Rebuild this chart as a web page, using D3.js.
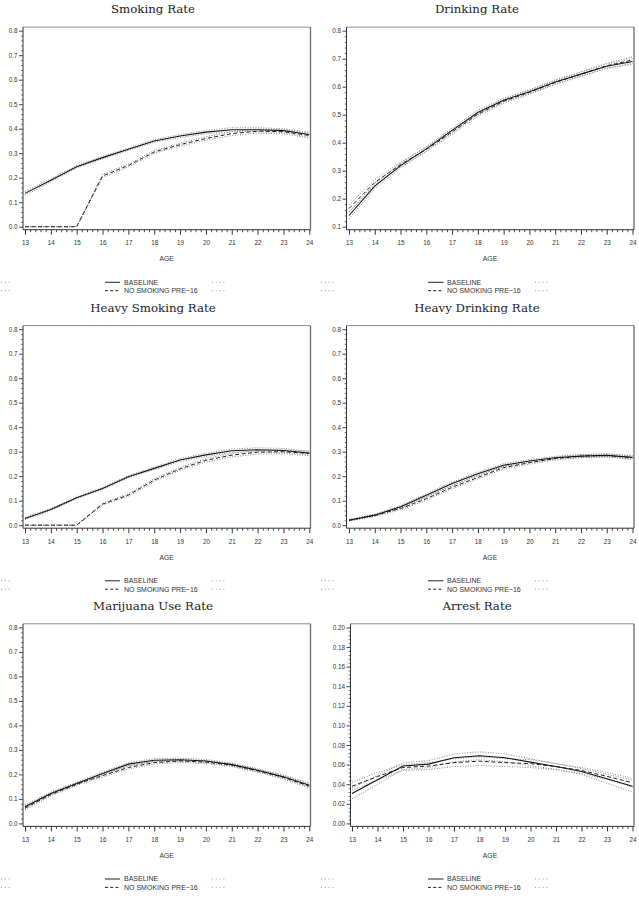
<!DOCTYPE html>
<html><head><meta charset="utf-8">
<script src="https://cdn.jsdelivr.net/npm/d3@7"></script>
<style>body{margin:0;background:#fff}svg{display:block}</style>
</head><body>
<svg id="c" width="639" height="911"></svg>
<script>
// ---------- data ----------
const ages = [13,14,15,16,17,18,19,20,21,22,23,24];
const titles = ["Smoking Rate","Drinking Rate","Heavy Smoking Rate","Heavy Drinking Rate","Marijuana Use Rate","Arrest Rate"];
const legendLabels = ["BASELINE","NO SMOKING PRE\u221216"];
const xAxisLabel = "AGE";
const yTicksRate = [0,0.1,0.2,0.3,0.4,0.5,0.6,0.7,0.8];
const yTicksDrink = [0.1,0.2,0.3,0.4,0.5,0.6,0.7,0.8];
const yTicksArrest = [0,0.02,0.04,0.06,0.08,0.10,0.12,0.14,0.16,0.18,0.20];

// Smoking
const smkBase   = [0.136,0.190,0.245,0.282,0.316,0.350,0.370,0.386,0.396,0.396,0.392,0.376];
const smkBaseLo = [0.128,0.184,0.240,0.277,0.311,0.345,0.364,0.379,0.388,0.388,0.384,0.366];
const smkBaseHi = [0.144,0.196,0.250,0.287,0.321,0.355,0.376,0.393,0.404,0.404,0.400,0.386];
const smkAlt    = [0,0,0,0.207,0.250,0.305,0.335,0.360,0.380,0.390,0.388,0.372];
const smkAltLo  = [0,0,0,0.200,0.244,0.299,0.329,0.353,0.372,0.382,0.379,0.362];
const smkAltHi  = [0,0,0,0.214,0.256,0.311,0.341,0.367,0.388,0.398,0.397,0.382];
// Drinking
const drkBase   = [0.140,0.245,0.318,0.378,0.444,0.508,0.552,0.582,0.617,0.645,0.673,0.690];
const drkBaseLo = [0.128,0.235,0.310,0.370,0.436,0.500,0.545,0.575,0.610,0.638,0.665,0.680];
const drkBaseHi = [0.152,0.255,0.326,0.386,0.452,0.516,0.559,0.589,0.624,0.652,0.681,0.700];
const drkAlt    = [0.165,0.258,0.322,0.376,0.438,0.502,0.548,0.580,0.615,0.645,0.675,0.695];
const drkAltLo  = [0.152,0.248,0.314,0.368,0.430,0.494,0.541,0.573,0.608,0.637,0.666,0.684];
const drkAltHi  = [0.178,0.268,0.330,0.384,0.446,0.510,0.555,0.587,0.622,0.653,0.684,0.706];
// Heavy smoking
const hsmBase   = [0.027,0.064,0.112,0.150,0.198,0.232,0.266,0.287,0.304,0.308,0.305,0.294];
const hsmBaseLo = [0.023,0.060,0.108,0.146,0.193,0.227,0.260,0.280,0.297,0.300,0.297,0.286];
const hsmBaseHi = [0.031,0.068,0.116,0.154,0.203,0.237,0.272,0.294,0.311,0.316,0.313,0.302];
const hsmAlt    = [0,0,0,0.086,0.123,0.184,0.230,0.265,0.286,0.298,0.300,0.293];
const hsmAltLo  = [0,0,0,0.082,0.118,0.178,0.224,0.258,0.279,0.290,0.292,0.284];
const hsmAltHi  = [0,0,0,0.090,0.128,0.190,0.236,0.272,0.293,0.306,0.308,0.302];
// Heavy drinking
const hdkBase   = [0.020,0.041,0.075,0.122,0.170,0.210,0.245,0.262,0.275,0.282,0.285,0.277];
const hdkBaseLo = [0.017,0.037,0.070,0.116,0.164,0.204,0.239,0.256,0.269,0.276,0.279,0.270];
const hdkBaseHi = [0.023,0.045,0.080,0.128,0.176,0.216,0.251,0.268,0.281,0.288,0.291,0.284];
const hdkAlt    = [0.020,0.040,0.068,0.108,0.155,0.195,0.235,0.255,0.272,0.282,0.285,0.275];
const hdkAltLo  = [0.017,0.036,0.063,0.102,0.149,0.189,0.229,0.249,0.266,0.276,0.279,0.268];
const hdkAltHi  = [0.023,0.044,0.073,0.114,0.161,0.201,0.241,0.261,0.278,0.288,0.291,0.282];
// Marijuana
const mjBase   = [0.068,0.122,0.163,0.204,0.242,0.258,0.260,0.255,0.240,0.217,0.190,0.156];
const mjBaseLo = [0.060,0.116,0.158,0.198,0.236,0.252,0.254,0.249,0.234,0.211,0.183,0.148];
const mjBaseHi = [0.076,0.128,0.168,0.210,0.248,0.264,0.266,0.261,0.246,0.223,0.197,0.164];
const mjAlt    = [0.062,0.118,0.160,0.195,0.228,0.248,0.255,0.250,0.238,0.215,0.188,0.152];
const mjAltLo  = [0.054,0.112,0.155,0.189,0.222,0.242,0.249,0.244,0.232,0.209,0.181,0.144];
const mjAltHi  = [0.070,0.124,0.165,0.201,0.234,0.254,0.261,0.256,0.244,0.221,0.195,0.160];
// Arrest
const arBase   = [0.0306,0.0445,0.0585,0.0605,0.0670,0.0690,0.0670,0.0625,0.0580,0.0530,0.0455,0.0380];
const arBaseLo = [0.0250,0.0400,0.0550,0.0570,0.0630,0.0650,0.0630,0.0590,0.0550,0.0500,0.0410,0.0320];
const arBaseHi = [0.0360,0.0490,0.0620,0.0640,0.0710,0.0730,0.0710,0.0660,0.0610,0.0560,0.0500,0.0440];
const arAlt    = [0.0380,0.0478,0.0570,0.0585,0.0620,0.0635,0.0620,0.0610,0.0580,0.0540,0.0480,0.0415];
const arAltLo  = [0.0340,0.0440,0.0540,0.0550,0.0580,0.0590,0.0580,0.0570,0.0550,0.0510,0.0450,0.0370];
const arAltHi  = [0.0420,0.0520,0.0600,0.0620,0.0660,0.0680,0.0660,0.0650,0.0610,0.0570,0.0520,0.0460];

// ---------- layout ----------
const cols = [
  {ax:23, x0:25, x1:309.3, right:310.5, titleX:153, ageX:166.7, legS:[105,120], legT:124, dotL:[1,12], dotR:[212,227]},
  {ax:346.5, x0:349, x1:632.5, right:634, titleX:477, ageX:490, legS:[428,443.5], legT:447, dotL:[321,335], dotR:[535,550]}
];
const rowTop = [30.7, 329.2, 627.4];   // pixel of top y-tick
const plotH = 196;

const panels = [
  {t:0,c:0,r:0,ticks:yTicksRate,fmt:".1f",s:[smkBase,smkBaseLo,smkBaseHi,smkAlt,smkAltLo,smkAltHi]},
  {t:1,c:1,r:0,ticks:yTicksDrink,fmt:".1f",s:[drkBase,drkBaseLo,drkBaseHi,drkAlt,drkAltLo,drkAltHi]},
  {t:2,c:0,r:1,ticks:yTicksRate,fmt:".1f",s:[hsmBase,hsmBaseLo,hsmBaseHi,hsmAlt,hsmAltLo,hsmAltHi]},
  {t:3,c:1,r:1,ticks:yTicksRate,fmt:".1f",s:[hdkBase,hdkBaseLo,hdkBaseHi,hdkAlt,hdkAltLo,hdkAltHi]},
  {t:4,c:0,r:2,ticks:yTicksRate,fmt:".1f",s:[mjBase,mjBaseLo,mjBaseHi,mjAlt,mjAltLo,mjAltHi]},
  {t:5,c:1,r:2,ticks:yTicksArrest,fmt:".2f",s:[arBase,arBaseLo,arBaseHi,arAlt,arAltLo,arAltHi],ax:350.5,x0:352}
];

const svg = d3.select("#c");
const tickFont = "Liberation Sans, Arial, sans-serif";

panels.forEach(p => {
  const col = Object.assign({}, cols[p.c]);
  if (p.ax) col.ax = p.ax;
  if (p.x0) col.x0 = p.x0;
  const top = rowTop[p.r], bot = top + plotH;
  const frameTop = top - 3.6, axisY = bot + 3;
  const yd = [p.ticks[0], p.ticks[p.ticks.length-1]];
  const y = d3.scaleLinear().domain(yd).range([bot, top]);
  const x = d3.scaleLinear().domain([ages[0], ages[ages.length-1]]).range([col.x0, col.x1]);
  const g = svg.append("g");

  // title
  g.append("text").attr("x", col.titleX).attr("y", top - 17.3)
    .attr("text-anchor","middle").attr("font-family","DejaVu Serif, serif")
    .attr("font-size", 11.8).attr("fill","#222").text(titles[p.t]);

  // frame top / right
  g.append("line").attr("x1",col.ax).attr("x2",col.right).attr("y1",frameTop).attr("y2",frameTop)
    .attr("stroke","#8c8c8c").attr("stroke-width",1);
  g.append("line").attr("x1",col.right).attr("x2",col.right).attr("y1",frameTop).attr("y2",axisY)
    .attr("stroke","#6a6a6a").attr("stroke-width",1.3);

  // y axis
  const step = p.ticks[1]-p.ticks[0];
  const minor = d3.range(yd[0], yd[1]+1e-9, step/5).filter(v => !p.ticks.some(t => Math.abs(t-v) < 1e-9));
  const yMinor = g.append("g").attr("transform",`translate(${col.ax},0)`)
    .call(d3.axisLeft(y).tickValues(minor).tickSize(1.8).tickFormat(""));
  yMinor.select(".domain").remove();
  yMinor.selectAll("line").attr("stroke","#444").attr("stroke-width",0.8);
  const yMaj = g.append("g").attr("transform",`translate(${col.ax},0)`)
    .call(d3.axisLeft(y).tickValues(p.ticks).tickSize(4).tickPadding(1.5).tickFormat(d3.format(p.fmt)));
  yMaj.select(".domain").remove();
  yMaj.selectAll("line").attr("stroke","#333").attr("stroke-width",0.9);
  yMaj.selectAll("text").attr("font-family",tickFont).attr("font-size",6.3).attr("fill","#333");
  g.append("line").attr("x1",col.ax).attr("x2",col.ax).attr("y1",frameTop).attr("y2",axisY)
    .attr("stroke","#333").attr("stroke-width",1);

  // x axis
  const xMinor = d3.range(ages[0], ages[ages.length-1]+1e-9, 0.2).filter(v => Math.abs(v-Math.round(v))>1e-6);
  const xm = g.append("g").attr("transform",`translate(0,${axisY})`)
    .call(d3.axisBottom(x).tickValues(xMinor).tickSize(2.5).tickFormat(""));
  xm.select(".domain").remove();
  xm.selectAll("line").attr("stroke","#333").attr("stroke-width",0.9);
  const xM = g.append("g").attr("transform",`translate(0,${axisY})`)
    .call(d3.axisBottom(x).tickValues(ages).tickSize(5).tickPadding(6).tickFormat(d3.format("d")));
  xM.select(".domain").remove();
  xM.selectAll("line").attr("stroke","#333").attr("stroke-width",1);
  xM.selectAll("text").attr("font-family",tickFont).attr("font-size",6.3).attr("fill","#333");
  g.append("line").attr("x1",col.ax).attr("x2",col.right).attr("y1",axisY).attr("y2",axisY)
    .attr("stroke","#333").attr("stroke-width",1);

  g.append("text").attr("x",col.ageX).attr("y",bot+34.5).attr("text-anchor","middle")
    .attr("font-family",tickFont).attr("font-size",6.8).attr("fill","#333").text(xAxisLabel);

  // series
  const line = d3.line().x((d,i)=>x(ages[i])).y(d=>y(d));
  const styles = [
    {c:"#111",w:1.1,da:null},
    {c:"#777",w:0.9,da:"1,1.6"},
    {c:"#777",w:0.9,da:"1,1.6"},
    {c:"#222",w:1.0,da:"4,2.5"},
    {c:"#777",w:0.9,da:"1,1.6"},
    {c:"#777",w:0.9,da:"1,1.6"}
  ];
  [1,2,4,5,3,0].forEach(k => {
    g.append("path").datum(p.s[k]).attr("d",line).attr("fill","none")
      .attr("stroke",styles[k].c).attr("stroke-width",styles[k].w)
      .attr("stroke-dasharray",styles[k].da);
  });

  // legend
  const ly = [bot+55.6, bot+64];
  ly.forEach((yy,i) => {
    g.append("line").attr("x1",col.dotL[0]).attr("x2",col.dotL[1]).attr("y1",yy).attr("y2",yy)
      .attr("stroke","#888").attr("stroke-width",0.9).attr("stroke-dasharray","1,2.8");
    g.append("line").attr("x1",col.dotR[0]).attr("x2",col.dotR[1]).attr("y1",yy).attr("y2",yy)
      .attr("stroke","#888").attr("stroke-width",0.9).attr("stroke-dasharray","1,2.8");
    g.append("line").attr("x1",col.legS[0]).attr("x2",col.legS[1]).attr("y1",yy).attr("y2",yy)
      .attr("stroke","#222").attr("stroke-width",1).attr("stroke-dasharray", i===0?null:"3,2.2");
    g.append("text").attr("x",col.legT).attr("y",yy+2.3).attr("font-family",tickFont)
      .attr("font-size",7).attr("fill","#333").text(legendLabels[i]);
  });
});
</script>
</body></html>
